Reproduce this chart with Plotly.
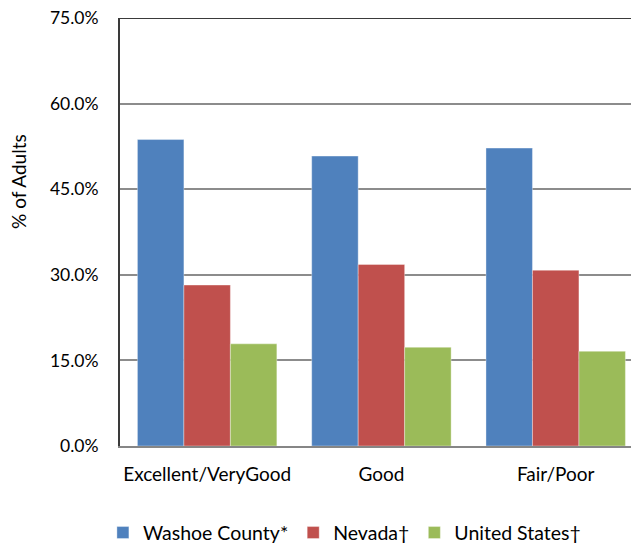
import plotly.graph_objects as go

categories = ["Excellent/VeryGood", "Good", "Fair/Poor"]
washoe = [53.7, 50.8, 52.2]
nevada = [28.2, 31.8, 30.8]
united_states = [17.9, 17.3, 16.6]
series_names = ["Washoe County*", "Nevada†", "United States†"]
colors = ["#4F81BD", "#C0504D", "#9BBB59"]
y_ticks = [0, 15, 30, 45, 60, 75]
y_tick_labels = ["0.0%", "15.0%", "30.0%", "45.0%", "60.0%", "75.0%"]
y_title = "% of Adults"

FONT = "Lato, 'Open Sans', sans-serif"

fig = go.Figure()
for name, vals, c in zip(series_names, [washoe, nevada, united_states], colors):
    fig.add_trace(go.Bar(
        x=categories, y=vals, name=name,
        marker=dict(color=c, line=dict(color="rgba(255,255,255,0.35)", width=1)),
    ))

fig.update_layout(
    width=631, height=540,
    margin=dict(l=112, r=0, t=10, b=102, autoexpand=False),
    paper_bgcolor="white", plot_bgcolor="white",
    barmode="group", bargap=0.2, bargroupgap=0,
    font=dict(family=FONT, size=17, color="#000000"),
    showlegend=True,
    legend=dict(orientation="h", xref="container", yref="container",
                x=0.1504, xanchor="left", y=0.028, yanchor="middle",
                font=dict(size=19.5), itemwidth=30, traceorder="normal"),
    xaxis=dict(range=[-0.5, 2.478], showgrid=False, showline=True,
               linecolor="#868686", linewidth=2, ticks="", ticklabelstandoff=10,
               tickfont=dict(size=19)),
    yaxis=dict(range=[0, 75], tickvals=y_ticks, ticktext=y_tick_labels,
               showgrid=True, gridcolor="#8C8C8C", gridwidth=2,
               showline=True, linecolor="#3a3a3a", linewidth=2, ticks="",
               ticklabelstandoff=16, zeroline=False, ticklabeloverflow="allow",
               tickfont=dict(size=17.5)),
)
fig.add_shape(type="line", xref="paper", yref="y", x0=0, x1=1, y0=75, y1=75,
              line=dict(color="#3a3a3a", width=2))
fig.add_annotation(text=y_title, textangle=-90, xref="paper", yref="paper",
                   x=-0.1946, y=0.617, xanchor="center", yanchor="middle",
                   showarrow=False, font=dict(size=19))

fig.write_html("out.html")
